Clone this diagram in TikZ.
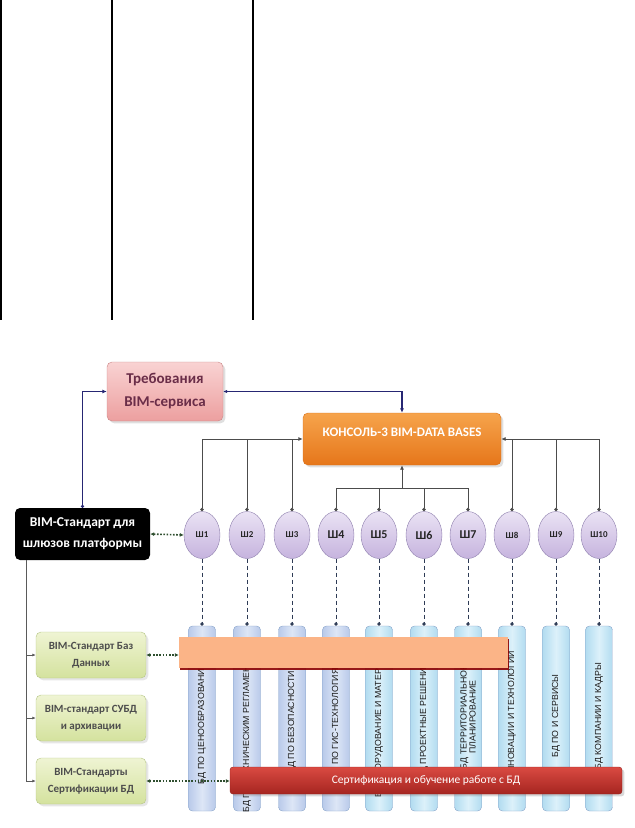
\documentclass[tikz,border=0pt]{standalone}
\usepackage{fontspec}
\setmainfont{Carlito}
\newfontfamily\colfont{Liberation Sans}
\usetikzlibrary{arrows.meta,shapes.geometric,shadows}
\definecolor{reqtop}{HTML}{F9D3D3}
\definecolor{reqbot}{HTML}{EC9F9F}
\definecolor{reqborder}{HTML}{C98585}
\definecolor{reqtext}{HTML}{6A2D48}
\definecolor{contop}{HTML}{F6A44C}
\definecolor{conbot}{HTML}{E6761A}
\definecolor{conborder}{HTML}{D8701A}
\definecolor{grtop}{HTML}{EFF4D3}
\definecolor{grbot}{HTML}{D4E29E}
\definecolor{grborder}{HTML}{B5C585}
\definecolor{grtext}{HTML}{4D4D4D}
\definecolor{cirtop}{HTML}{EAE2F4}
\definecolor{cirbot}{HTML}{C6B4DE}
\definecolor{cirborder}{HTML}{8E7FAD}
\definecolor{colAedge}{HTML}{B9CAEA}
\definecolor{colAmid}{HTML}{DDE6F6}
\definecolor{colBedge}{HTML}{B2DCF0}
\definecolor{colBmid}{HTML}{DCF1FA}
\definecolor{colborder}{HTML}{86A2C8}
\definecolor{obar}{HTML}{FBB487}
\definecolor{rtop}{HTML}{DA4A42}
\definecolor{rbot}{HTML}{A52520}
\definecolor{navy}{HTML}{262673}
\definecolor{dotgreen}{HTML}{2F4F2F}
\definecolor{treegray}{HTML}{5A5A5A}
\definecolor{dashc}{HTML}{2E3B55}
\begin{document}
\begin{tikzpicture}[x=1pt,y=-1pt,
  reqbox/.style={draw=reqborder, rounded corners=5pt, top color=reqtop, bottom color=reqbot,
    minimum width=116pt, minimum height=59pt, align=center, text=reqtext,
    font=\fontsize{15}{23}\selectfont\bfseries, drop shadow={opacity=0.25}},
  conbox/.style={draw=conborder, rounded corners=5pt, top color=contop, bottom color=conbot,
    minimum width=198pt, minimum height=52pt, drop shadow={opacity=0.25}},
  blkbox/.style={fill=black, rounded corners=5pt, minimum width=135pt, minimum height=52pt,
    align=center, text=white, font=\fontsize{13.5}{21}\selectfont\bfseries},
  grbox/.style={draw=grborder, rounded corners=5pt, top color=grtop, bottom color=grbot,
    minimum width=110pt, minimum height=46pt, align=center, text=grtext,
    font=\fontsize{11}{17}\selectfont\bfseries, drop shadow={opacity=0.2}},
  gate/.style={ellipse, draw=cirborder, top color=cirtop, bottom color=cirbot,
    minimum width=36pt, minimum height=47pt, inner sep=0pt, text=black!85},
  smallg/.style={font=\fontsize{9}{10}\selectfont\bfseries},
  bigg/.style={font=\fontsize{12}{14}\selectfont\bfseries},
  colA/.style={draw=colborder, rounded corners=4pt, left color=colAedge, right color=colAedge,
    middle color=colAmid, minimum width=27pt, minimum height=185pt},
  colB/.style={draw=colborder, rounded corners=4pt, left color=colBedge, right color=colBedge,
    middle color=colBmid, minimum width=27pt, minimum height=185pt},
  coltext/.style={rotate=90, align=center, text=black!90, inner sep=0pt,
    font=\colfont\fontsize{8.8}{9}\selectfont},
  navyline/.style={draw=navy, line width=1.3pt},
  treeline/.style={draw=black!70, line width=0.9pt},
  lefttree/.style={draw=treegray, line width=0.8pt},
  dotarrow/.style={draw=dotgreen, line width=1.6pt, dash pattern=on 1.6pt off 1.6pt,
    {Latex[length=4pt,width=4pt]}-{Latex[length=4pt,width=4pt]}},
  dashline/.style={draw=dashc, line width=0.9pt, dash pattern=on 4pt off 3pt, -{Circle[length=3.5pt]}}
]
\useasboundingbox (0,0) rectangle (635,828);

% table borders at the top
\draw[line width=1.4pt] (1,0) -- (1,320);
\draw[line width=1.4pt] (112,0) -- (112,320);
\draw[line width=1.4pt] (253,0) -- (253,320);

% main boxes
\node[reqbox] (req) at (165,391.5) {Требования\\BIM-сервиса};
\node[conbox] (con) at (402,439) {};
\node[text=white, font=\fontsize{13}{15}\selectfont\bfseries] (contxt) at (402,432) {КОНСОЛЬ-3 BIM-DATA BASES};
\node[blkbox] (blk) at (82.5,534) {BIM-Стандарт для\\шлюзов платформы};

% gates
\foreach \i/\x/\s in {1/202/smallg,2/247/smallg,3/292/smallg,4/336/bigg,5/379/bigg,6/424/bigg,7/468/bigg,8/512/smallg,9/556/smallg,10/599/smallg}{
  \node[gate,\s] (s\i) at (\x,535) {Ш\i};
}

% columns
\foreach \i/\x/\st in {1/202/colA,2/247/colA,3/292/colA,4/336/colA,5/379/colB,6/424/colB,7/468/colB,8/512/colB,9/556/colB,10/599/colB}{
  \node[\st] (c\i) at (\x,718.5) {};
}
\node[coltext] (t1) at (202,722) {БД ПО ЦЕНООБРАЗОВАНИЮ};
\node[coltext] (t2) at (247,730) {БД ПО ТЕХНИЧЕСКИМ РЕГЛАМЕНТАМ};
\node[coltext] (t3) at (292,722) {БД ПО БЕЗОПАСНОСТИ};
\node[coltext] (t4) at (336,720) {БД ПО ГИС-ТЕХНОЛОГИЯМ};
\node[coltext] (t5) at (379,720) {БД ОБОРУДОВАНИЕ И МАТЕРИАЛЫ};
\node[coltext] (t6) at (424,720) {БД ПРОЕКТНЫЕ РЕШЕНИЯ};
\node[coltext] (t7) at (468,717) {БД ТЕРРИТОРИАЛЬНОЕ\\ПЛАНИРОВАНИЕ};
\node[coltext] (t8) at (512,722) {БД ИННОВАЦИИ И ТЕХНОЛОГИИ};
\node[coltext] (t9) at (556,716) {БД ПО И СЕРВИСЫ};
\node[coltext] (t10) at (599,716) {БД КОМПАНИИ И КАДРЫ};

% bars
\node[fill=obar, minimum width=329pt, minimum height=31pt, inner sep=0pt,
  drop shadow={shadow xshift=0.8pt, shadow yshift=-1.6pt, fill=red!55!black, opacity=0.9}] (obar) at (343.5,652.5) {};
\node[rounded corners=3pt, top color=rtop, bottom color=rbot, draw=rbot!90!black,
  minimum width=392pt, minimum height=27pt, text=white,
  font=\fontsize{11.5}{14}\selectfont, drop shadow={opacity=0.3}] (rbar) at (426,780.5) {Сертификация и обучение работе с БД};

% green boxes
\node[grbox] (g1) at (91,655) {BIM-Стандарт Баз\\Данных};
\node[grbox] (g2) at (91,718) {BIM-стандарт СУБД\\и архивации};
\node[grbox] (g3) at (91,781) {BIM-Стандарты\\Сертификации БД};

% navy connectors
\draw[navyline, {Circle[length=3pt]}-{Latex[length=4.5pt,width=4pt]}] (blk.north) |- (req.west);
\draw[navyline, {Latex[length=4pt,width=3.5pt]}-{Latex[length=4.5pt,width=4pt]}] (req.east) -| (con.north);

% gate to console trees
\draw[treeline, {Circle[length=3.5pt]}-{Latex[length=4.5pt,width=4pt]}] (s1.north) |- (con.west);
\draw[treeline, {Circle[length=3.5pt]}-] (s2.north) -- (s2.north |- con.west);
\draw[treeline, {Circle[length=3.5pt]}-] (s3.north) -- (s3.north |- con.west);
\draw[treeline, {Circle[length=3.5pt]}-{Latex[length=4.5pt,width=4pt]}] (s10.north) |- (con.east);
\draw[treeline, {Circle[length=3.5pt]}-] (s8.north) -- (s8.north |- con.east);
\draw[treeline, {Circle[length=3.5pt]}-] (s9.north) -- (s9.north |- con.east);
\path (con.south) ++(0,23) coordinate (bj);
\draw[treeline, -{Latex[length=4.5pt,width=4pt]}] (bj) -- (con.south);
\draw[treeline, {Circle[length=3.5pt]}-] (s4.north) |- (bj);
\draw[treeline, {Circle[length=3.5pt]}-] (s7.north) |- (bj);
\draw[treeline, {Circle[length=3.5pt]}-] (s5.north) -- (s5.north |- bj);
\draw[treeline, {Circle[length=3.5pt]}-] (s6.north) -- (s6.north |- bj);

% dashed gate to column
\foreach \i in {1,...,10}{
  \draw[dashline] (s\i.south) -- (c\i.north);
}

% dotted arrows
\draw[dotarrow] (blk.east) -- (s1.west);
\draw[dotarrow] (g1.east) -- (g1.east -| obar.west);
\draw[dotarrow] (g3.east) -- (g3.east -| rbar.west);

% left tree
\path (blk.south west) ++(12,0) coordinate (lt);
\draw[lefttree, -{Latex[length=3.5pt,width=3pt]}] (lt) |- (g3.west);
\draw[lefttree, -{Latex[length=3.5pt,width=3pt]}] (lt |- g1.west) -- (g1.west);
\draw[lefttree, -{Latex[length=3.5pt,width=3pt]}] (lt |- g2.west) -- (g2.west);
\end{tikzpicture}
\end{document}
